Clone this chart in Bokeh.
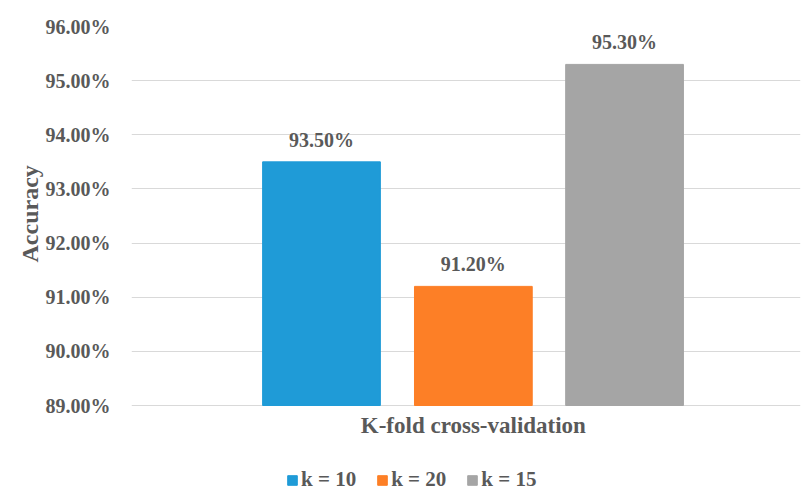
from bokeh.plotting import figure
from bokeh.models import (Range1d, ColumnDataSource, Legend, LegendItem, LabelSet, Label, FixedTicker,
                          CustomJSTickFormatter, Title)
from bokeh.embed import file_html
from bokeh.resources import INLINE

labels = ["k = 10", "k = 20", "k = 15"]
values = [93.5, 91.2, 95.3]
colors = ["#1F9BD7", "#FD7F26", "#A5A5A5"]
positions = [0.284, 0.511, 0.737]
yticks = [89, 90, 91, 92, 93, 94, 95, 96]
x_title = "K-fold cross-validation"
y_title = "Accuracy"

TXT = "#595959"
FONT = "Liberation Serif"
BASE = 89
Y_LOW = BASE - 87 / (379 / 7)  # extra room below the baseline for title & legend

p = figure(frame_width=669, frame_height=466,
           output_backend="svg", toolbar_location=None,
           x_range=Range1d(0, 1), y_range=Range1d(Y_LOW, 96),
           min_border_left=131, min_border_right=2, min_border_top=26, min_border_bottom=0)
p.outline_line_color = None
p.xgrid.visible = False
p.ygrid.grid_line_color = "#D9D9D9"
p.ygrid.grid_line_width = 1
p.xaxis.visible = False

src = ColumnDataSource(dict(x=positions, top=values, color=colors, label=labels,
                            txt=["%.2f%%" % v for v in values]))
renderers = []
for i in range(3):
    r = p.vbar(x=[positions[i]], top=[values[i]], bottom=BASE, width=0.176, color=colors[i])
    renderers.append(r)

ls = LabelSet(x="x", y="top", text="txt", source=src, text_align="center", text_baseline="bottom",
              y_offset=11, text_font=FONT, text_font_style="bold", text_font_size="20px", text_color=TXT)
p.add_layout(ls)

p.add_layout(Label(x=positions[1], y=BASE, y_offset=-20, text=x_title, text_align="center",
                   text_baseline="middle", text_font=FONT, text_font_style="bold",
                   text_font_size="23px", text_color=TXT))

p.yaxis.ticker = FixedTicker(ticks=yticks)
p.yaxis.formatter = CustomJSTickFormatter(code="return tick.toFixed(2) + '%';")
p.yaxis.axis_line_color = None
p.yaxis.major_tick_line_color = None
p.yaxis.minor_tick_line_color = None
p.yaxis.major_label_text_font = FONT
p.yaxis.major_label_text_font_style = "bold"
p.yaxis.major_label_text_font_size = "20px"
p.yaxis.major_label_text_color = TXT
p.yaxis.major_label_standoff = 15

ytitle = Title(text=y_title, align="left", offset=230, text_font=FONT, text_font_style="bold",
               text_font_size="24px", text_color=TXT, standoff=0)
p.add_layout(ytitle, "left")

legend = Legend(items=[LegendItem(label=labels[i], renderers=[renderers[i]]) for i in range(3)],
                orientation="horizontal", location=(155, 0),
                label_text_font=FONT, label_text_font_style="bold", label_text_font_size="21px",
                label_text_color=TXT, glyph_width=12, glyph_height=12, spacing=20,
                label_standoff=3, border_line_color=None, background_fill_alpha=0,
                margin=0, padding=0)
p.add_layout(legend)

open("out.html", "w").write(file_html(p, INLINE))
